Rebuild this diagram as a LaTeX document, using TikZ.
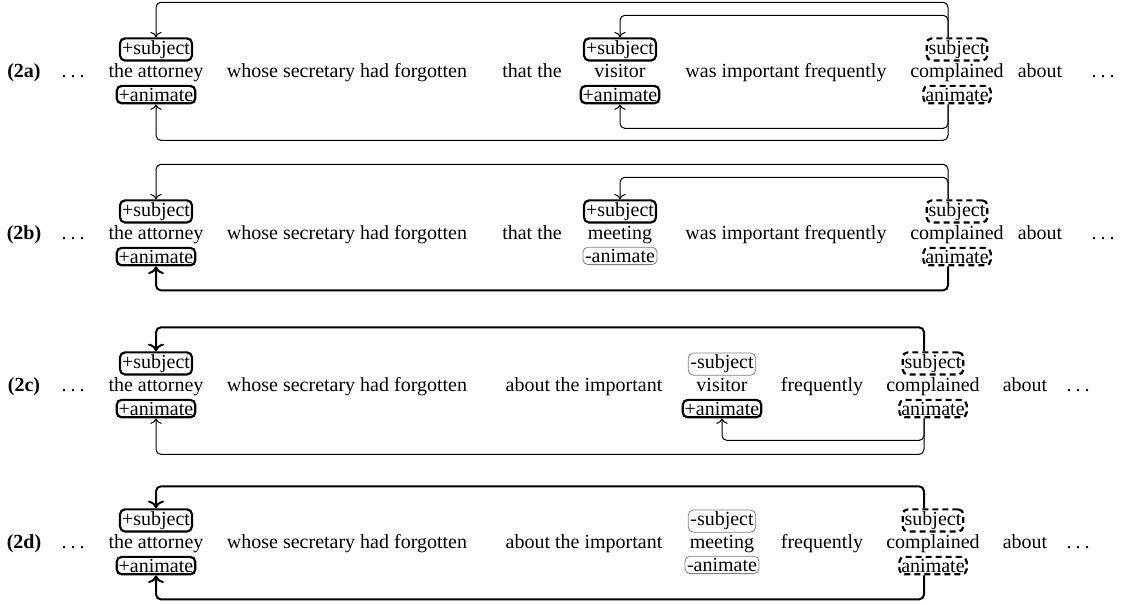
\documentclass[tikz,border=0pt]{standalone}
\usepackage{fontspec}
\setmainfont{Liberation Serif}
\usetikzlibrary{positioning,arrows.meta}

\newcommand{\elide}{.\kern2pt.\kern2pt.}

\tikzset{
  word/.style={anchor=base, inner sep=1pt, text height=7pt, text depth=2.2pt},
  feat/.style={rounded corners=2.5pt, inner sep=1pt},
  plus/.style={feat, draw, line width=1.1pt},
  minus/.style={feat, draw=gray, line width=0.4pt},
  cue/.style={feat, draw, line width=1.1pt, dash pattern=on 3pt off 2pt},
  weak/.style={->, line width=0.5pt, rounded corners=2.5pt},
  strong/.style={->, line width=1pt, rounded corners=2.5pt}
}

\begin{document}
\begin{tikzpicture}[x=0.5pt, y=0.5pt]
\useasboundingbox (0,0) rectangle (1121,605);

% (2a)
\node[word] (la) at (24,527) {\textbf{(2a)}};
\node[word] (a0) at (73,527) {\elide};
\node[word] (a1) at (156,527) {the attorney};
\node[word] (a2) at (347,527) {whose secretary had forgotten};
\node[word] (a3) at (532,527) {that the};
\node[word] (a4) at (620,527) {visitor};
\node[word] (a5) at (786,527) {was important frequently};
\node[word] (a6) at (957,527) {complained};
\node[word] (a7) at (1040,527) {about};
\node[word] (a8) at (1103,527) {\elide};
\node[plus, above=0pt of a1] (a1s) {+subject};
\node[plus, below=0pt of a1] (a1a) {+animate};
\node[plus, above=0pt of a4] (a4s) {+subject};
\node[plus, below=0pt of a4] (a4a) {+animate};
\node[cue, above=0pt of a6] (a6s) {subject};
\node[cue, below=0pt of a6] (a6a) {animate};
\draw[weak] ([xshift=-4.5pt]a6s.north) -- ++(0,17.5pt) -| (a1s.north);
\draw[weak] ([xshift=-4.5pt]a6s.north) -- ++(0,11pt) -| (a4s.north);
\draw[weak] ([xshift=-4.5pt]a6a.south) -- ++(0,-18pt) -| (a1a.south);
\draw[weak] ([xshift=-4.5pt]a6a.south) -- ++(0,-12pt) -| (a4a.south);

% (2b)
\node[word] (lb) at (24,365) {\textbf{(2b)}};
\node[word] (b0) at (73,365) {\elide};
\node[word] (b1) at (156,365) {the attorney};
\node[word] (b2) at (347,365) {whose secretary had forgotten};
\node[word] (b3) at (532,365) {that the};
\node[word] (b4) at (620,365) {meeting};
\node[word] (b5) at (786,365) {was important frequently};
\node[word] (b6) at (957,365) {complained};
\node[word] (b7) at (1040,365) {about};
\node[word] (b8) at (1103,365) {\elide};
\node[plus, above=0pt of b1] (b1s) {+subject};
\node[plus, below=0pt of b1] (b1a) {+animate};
\node[plus, above=0pt of b4] (b4s) {+subject};
\node[minus, below=0pt of b4] (b4a) {-animate};
\node[cue, above=0pt of b6] (b6s) {subject};
\node[cue, below=0pt of b6] (b6a) {animate};
\draw[weak] ([xshift=-4.5pt]b6s.north) -- ++(0,17.5pt) -| (b1s.north);
\draw[weak] ([xshift=-4.5pt]b6s.north) -- ++(0,11pt) -| (b4s.north);
\draw[strong] ([xshift=-4.5pt]b6a.south) -- ++(0,-12pt) -| (b1a.south);

% (2c)
\node[word] (lc) at (24,213) {\textbf{(2c)}};
\node[word] (c0) at (73,213) {\elide};
\node[word] (c1) at (156,213) {the attorney};
\node[word] (c2) at (347,213) {whose secretary had forgotten};
\node[word] (c3) at (584,213) {about the important};
\node[word] (c4) at (722,213) {visitor};
\node[word] (c5) at (822,213) {frequently};
\node[word] (c6) at (933,213) {complained};
\node[word] (c7) at (1025,213) {about};
\node[word] (c8) at (1078,213) {\elide};
\node[plus, above=0pt of c1] (c1s) {+subject};
\node[plus, below=0pt of c1] (c1a) {+animate};
\node[minus, above=0pt of c4] (c4s) {-subject};
\node[plus, below=0pt of c4] (c4a) {+animate};
\node[cue, above=0pt of c6] (c6s) {subject};
\node[cue, below=0pt of c6] (c6a) {animate};
\draw[strong] ([xshift=-4.5pt]c6s.north) -- ++(0,12pt) -| (c1s.north);
\draw[weak] ([xshift=-4.5pt]c6a.south) -- ++(0,-18pt) -| (c1a.south);
\draw[weak] ([xshift=-4.5pt]c6a.south) -- ++(0,-11pt) -| (c4a.south);

% (2d)
\node[word] (ld) at (24,56) {\textbf{(2d)}};
\node[word] (d0) at (73,56) {\elide};
\node[word] (d1) at (156,56) {the attorney};
\node[word] (d2) at (347,56) {whose secretary had forgotten};
\node[word] (d3) at (584,56) {about the important};
\node[word] (d4) at (722,56) {meeting};
\node[word] (d5) at (822,56) {frequently};
\node[word] (d6) at (933,56) {complained};
\node[word] (d7) at (1025,56) {about};
\node[word] (d8) at (1078,56) {\elide};
\node[plus, above=0pt of d1] (d1s) {+subject};
\node[plus, below=0pt of d1] (d1a) {+animate};
\node[minus, above=0pt of d4] (d4s) {-subject};
\node[minus, below=0pt of d4] (d4a) {-animate};
\node[cue, above=0pt of d6] (d6s) {subject};
\node[cue, below=0pt of d6] (d6a) {animate};
\draw[strong] ([xshift=-4.5pt]d6s.north) -- ++(0,11pt) -| (d1s.north);
\draw[strong] ([xshift=-4.5pt]d6a.south) -- ++(0,-12pt) -| (d1a.south);
\end{tikzpicture}
\end{document}
